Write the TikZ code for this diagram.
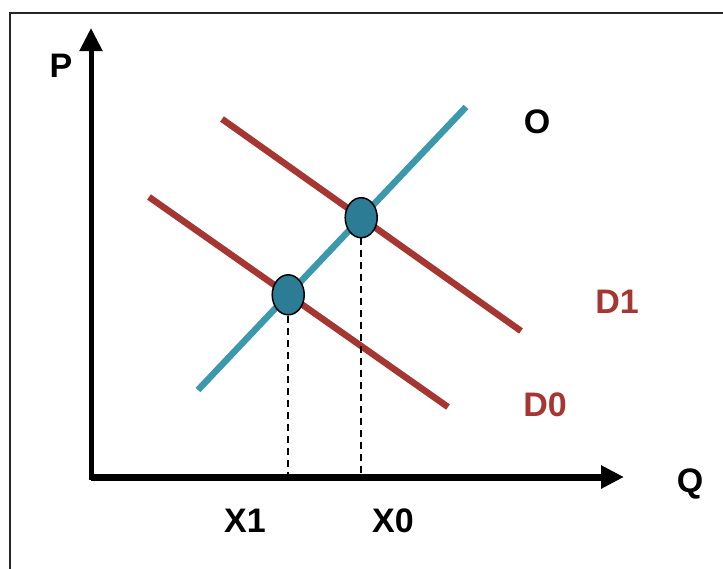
\documentclass[tikz,border=0pt]{standalone}
\usepackage{fontspec}
\setmainfont{Liberation Sans}
\usetikzlibrary{arrows.meta,shapes.geometric}

\definecolor{dred}{RGB}{166,54,50}
\definecolor{sblue}{RGB}{60,152,172}
\definecolor{dotblue}{RGB}{44,124,150}

\tikzset{
  axisline/.style={-{Triangle[length=23pt,width=22pt]}},
  demand/.style={line width=6.5pt,draw=dred},
  supply/.style={line width=6.5pt,draw=sblue},
  eqpt/.style={ellipse,draw=black,line width=1.5pt,fill=dotblue,minimum width=32pt,minimum height=40pt,inner sep=0pt},
  lbl/.style={font=\bfseries\fontsize{34}{34}\selectfont,inner sep=0pt},
}

\begin{document}
\begin{tikzpicture}[x=1pt,y=-1pt,line join=miter]
    \useasboundingbox (0,0) rectangle (723,568);
    \draw[line width=2pt,black!85] (10,13) rectangle (760,610);

    % axes
    \coordinate (o) at (91,480);
    \coordinate (ptop) at (91,28);
    \coordinate (qend) at (624,477);
    \draw[axisline,line width=5pt] (o) -- (ptop);
    \draw[axisline,line width=7pt] (o |- qend) -- (qend);
    \node[lbl] (P) at (61,66) {P};
    \node[lbl] (Q) at (690,484) {Q};

    % curves
    \coordinate (s0) at (198,390);
    \coordinate (s1) at (466,107);
    \coordinate (d0a) at (149,197);
    \coordinate (d0b) at (448,407);
    \coordinate (d1a) at (222,119);
    \coordinate (d1b) at (521,331);
    \draw[demand] (d0a) -- (d0b);
    \draw[demand] (d1a) -- (d1b);
    \draw[supply] (s0) -- (s1);
    \node[lbl] (O) at (537,122) {O};
    \node[lbl,text=dred] (D1) at (617,302) {D1};
    \node[lbl,text=dred] (D0) at (545,405) {D0};

    % equilibria
    \node[eqpt] (e0) at (intersection of s0--s1 and d0a--d0b) {};
    \node[eqpt] (e1) at (intersection of s0--s1 and d1a--d1b) {};
    \draw[line width=1.5pt,dash pattern=on 7pt off 5pt] (e0) -- (e0 |- qend);
    \draw[line width=1.5pt,dash pattern=on 7pt off 5pt] (e1) -- (e1 |- qend);
    \node[lbl] (X1) at (245,521) {X1};
    \node[lbl] (X0) at (393,521) {X0};
\end{tikzpicture}
\end{document}
